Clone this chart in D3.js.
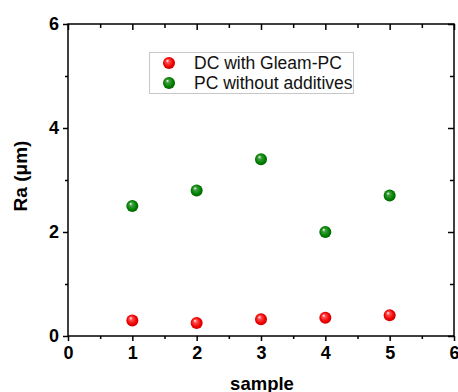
<!DOCTYPE html>
<html><head><meta charset="utf-8">
<script src="https://cdn.jsdelivr.net/npm/d3@7"></script>
<style>body{margin:0;background:#fff;} svg{display:block;font-family:"Liberation Sans",Arial,sans-serif;}</style>
</head><body><svg id="c" width="458" height="392"></svg>
<script>
const samples = [1, 2, 3, 4, 5];
const dcWithGleam = [0.30, 0.25, 0.32, 0.35, 0.40];
const pcWithout = [2.5, 2.8, 3.4, 2.0, 2.7];
const seriesNames = ["DC with Gleam-PC", "PC without additives"];
const xTicks = [0, 1, 2, 3, 4, 5, 6];
const yTicks = [0, 2, 4, 6];

const svg = d3.select("#c");
const L = 68, R = 454, T = 24, B = 336;
const x = d3.scaleLinear().domain([0, 6]).range([L, R]);
const y = d3.scaleLinear().domain([0, 6]).range([B, T]);

const defs = svg.append("defs");
function grad(id, light, mid, dark) {
  const g = defs.append("radialGradient").attr("id", id)
    .attr("cx", "50%").attr("cy", "50%").attr("r", "55%")
    .attr("fx", "35%").attr("fy", "30%");
  g.append("stop").attr("offset", "0%").attr("stop-color", "#ffffff");
  g.append("stop").attr("offset", "25%").attr("stop-color", light);
  g.append("stop").attr("offset", "70%").attr("stop-color", mid);
  g.append("stop").attr("offset", "100%").attr("stop-color", dark);
}
grad("gr", "#ff5050", "#f00000", "#c00000");
grad("gg", "#40a040", "#008000", "#005a00");

// frame
svg.append("rect").attr("x", L).attr("y", T).attr("width", R - L).attr("height", B - T)
  .attr("fill", "none").attr("stroke", "#000").attr("stroke-width", 1.5);

const tickStyle = g => g.selectAll("line").attr("stroke", "#000").attr("stroke-width", 1.5);
const FONT = "'Liberation Sans',Arial,sans-serif";

// bottom axis major (outward)
const bx = svg.append("g").attr("transform", `translate(0,${B})`)
  .call(d3.axisBottom(x).tickValues(xTicks).tickSize(5).tickPadding(5).tickFormat(d3.format("d")));
bx.select(".domain").remove();
bx.call(tickStyle);
bx.selectAll("text").attr("font-size", 18).attr("font-weight", "bold").attr("fill", "#000")
  .attr("font-family", FONT);
const bm = svg.append("g").attr("transform", `translate(0,${B})`)
  .call(d3.axisBottom(x).tickValues([0.5,1.5,2.5,3.5,4.5,5.5]).tickSize(3).tickFormat(""));
bm.select(".domain").remove(); bm.call(tickStyle);

// top axis inward
const tx = svg.append("g").attr("transform", `translate(0,${T})`)
  .call(d3.axisTop(x).tickValues(xTicks).tickSize(-6).tickFormat(""));
tx.select(".domain").remove(); tx.call(tickStyle);
const tm = svg.append("g").attr("transform", `translate(0,${T})`)
  .call(d3.axisTop(x).tickValues([0.5,1.5,2.5,3.5,4.5,5.5]).tickSize(-4).tickFormat(""));
tm.select(".domain").remove(); tm.call(tickStyle);

// left axis outward
const ly = svg.append("g").attr("transform", `translate(${L},0)`)
  .call(d3.axisLeft(y).tickValues(yTicks).tickSize(5).tickPadding(4).tickFormat(d3.format("d")));
ly.select(".domain").remove(); ly.call(tickStyle);
ly.selectAll("text").attr("font-size", 18).attr("font-weight", "bold").attr("fill", "#000")
  .attr("font-family", FONT);
const lm = svg.append("g").attr("transform", `translate(${L},0)`)
  .call(d3.axisLeft(y).tickValues([1,3,5]).tickSize(3).tickFormat(""));
lm.select(".domain").remove(); lm.call(tickStyle);

// right axis inward
const ry = svg.append("g").attr("transform", `translate(${R},0)`)
  .call(d3.axisRight(y).tickValues(yTicks).tickSize(-6).tickFormat(""));
ry.select(".domain").remove(); ry.call(tickStyle);
const rm = svg.append("g").attr("transform", `translate(${R},0)`)
  .call(d3.axisRight(y).tickValues([1,3,5]).tickSize(-4).tickFormat(""));
rm.select(".domain").remove(); rm.call(tickStyle);

// axis titles
svg.append("text").attr("x", 262).attr("y", 390).attr("text-anchor", "middle")
  .attr("font-size", 18.5).attr("font-weight", "bold").text("sample");
svg.append("text").attr("transform", `translate(27,176) rotate(-90)`)
  .attr("text-anchor", "middle").attr("font-size", 19).attr("font-weight", "bold").text("Ra (μm)");

// points
svg.append("g").selectAll("circle").data(samples.map((s, i) => [s, pcWithout[i]])).join("circle")
  .attr("cx", d => x(d[0])).attr("cy", d => y(d[1])).attr("r", 6).attr("fill", "url(#gg)");
svg.append("g").selectAll("circle").data(samples.map((s, i) => [s, dcWithGleam[i]])).join("circle")
  .attr("cx", d => x(d[0])).attr("cy", d => y(d[1])).attr("r", 6).attr("fill", "url(#gr)");

// legend
const lg = svg.append("g");
lg.append("rect").attr("x", 149.5).attr("y", 52.5).attr("width", 204).attr("height", 41)
  .attr("fill", "#fff").attr("stroke", "#c8c8c8").attr("stroke-width", 1);
const fills = ["url(#gr)", "url(#gg)"];
seriesNames.forEach((n, i) => {
  const cy = 63 + i * 20;
  lg.append("circle").attr("cx", 169).attr("cy", cy).attr("r", 6).attr("fill", fills[i]);
  lg.append("text").attr("x", 194).attr("y", cy + 6).attr("font-size", 17.5).attr("fill", "#111").text(n);
});
</script></body></html>
